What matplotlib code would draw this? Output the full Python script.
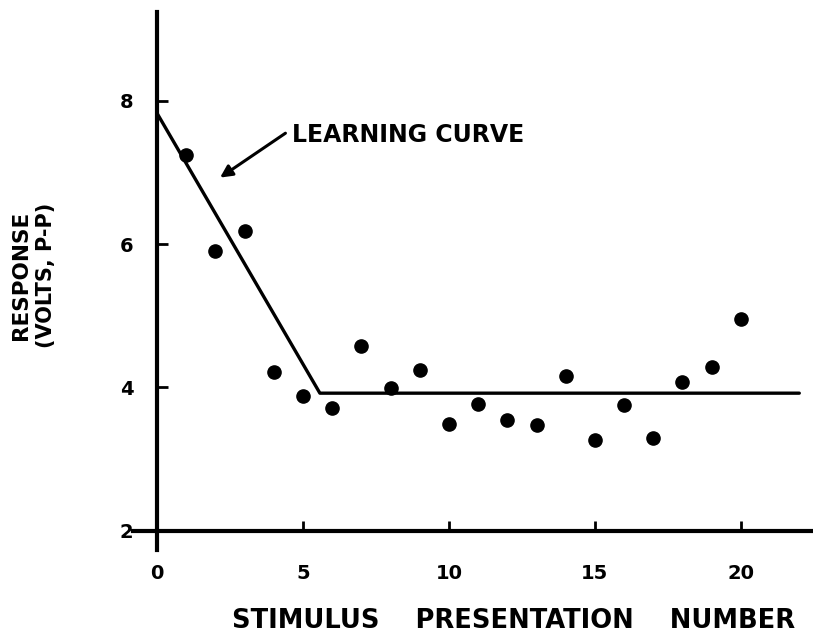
import matplotlib
matplotlib.use("Agg")
from matplotlib import pyplot as plt

# stimulus presentation number and measured response (volts, p-p)
trial = [1, 2, 3, 4, 5, 6, 7, 8, 9, 10, 11, 12, 13, 14, 15, 16, 17, 18, 19, 20]
response = [7.25, 5.90, 6.18, 4.22, 3.88, 3.71, 4.58, 3.99, 4.25, 3.49,
            3.77, 3.54, 3.47, 4.16, 3.26, 3.75, 3.30, 4.08, 4.28, 4.95]

# fitted learning curve (two straight segments)
curve_x = [0, 5.58, 22.0]
curve_y = [7.83, 3.92, 3.92]

xticks = [0, 5, 10, 15, 20]
yticks = [2, 4, 6, 8]

plt.rcParams['font.family'] = ['DejaVu Sans']
plt.rcParams['font.weight'] = 'bold'

fig = plt.figure(figsize=(8.13, 6.4), dpi=100)
ax = fig.add_axes([0.164, 0.1406, 0.836, 0.8404])

ax.plot(curve_x, curve_y, color='black', lw=2.4, solid_capstyle='round')
ax.plot(trial, response, 'o', color='black', ms=9.5)

ax.set_xlim(-0.81, 22.47)
ax.set_ylim(1.73, 9.24)

ax.spines['left'].set_position(('data', 0))
ax.spines['bottom'].set_position(('data', 2))
ax.spines['top'].set_visible(False)
ax.spines['right'].set_visible(False)
ax.spines['left'].set_linewidth(3)
ax.spines['bottom'].set_linewidth(3)

ax.set_xticks(xticks)
ax.set_yticks(yticks)
ax.tick_params(axis='x', direction='in', length=7, width=2, pad=24, labelsize=14)
ax.tick_params(axis='y', direction='in', length=8, width=2, pad=17, labelsize=14)
for lab in ax.get_xticklabels() + ax.get_yticklabels():
    lab.set_fontweight('bold')

# label and its pointer
ax.text(4.62, 7.53, 'LEARNING CURVE', fontsize=17, fontweight='bold',
        va='center', ha='left')
ax.annotate('', xy=(2.16, 6.93), xytext=(4.4, 7.55),
            arrowprops=dict(arrowstyle='-|>', color='black', lw=2.2,
                            mutation_scale=18, shrinkA=0, shrinkB=0))

fig.text(0.026, 0.570, 'RESPONSE', rotation=90, ha='center',
         va='center', fontsize=15.5, fontweight='bold')
fig.text(0.057, 0.570, '(VOLTS, P-P)', rotation=90, ha='center',
         va='center', fontsize=15, fontweight='bold')
fig.text(0.632, 0.029, 'STIMULUS    PRESENTATION    NUMBER', ha='center',
         va='center', fontsize=18.5, fontweight='bold')

fig.savefig('out.png', dpi=100)
